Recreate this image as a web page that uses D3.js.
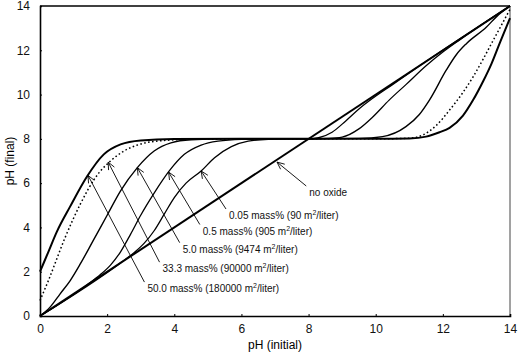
<!DOCTYPE html>
<html><head><meta charset="utf-8">
<script src="https://cdn.jsdelivr.net/npm/d3@7/dist/d3.min.js"></script>
<style>
html,body{margin:0;padding:0;background:#fff;}
svg{display:block;font-family:"Liberation Sans",Arial,sans-serif;}
</style></head>
<body><svg id="c" width="519" height="356"></svg>
<script>
// ---- data (pH initial, pH final) ----
const xTicks = [0, 2, 4, 6, 8, 10, 12, 14];
const yTicks = [0, 2, 4, 6, 8, 10, 12, 14];
const xLabel = "pH (initial)";
const yLabel = "pH (final)";

const noOxide = [[0,0],[14,14]];
const mass50 = [[0,2.0],[0.25,2.9],[0.5,3.8],[0.9,4.95],[1.4,6.3],[1.9,7.3],[2.4,7.75],[3,7.93],[4,7.99],[6,8],[8,8],[10,8],[11,8.02],[11.5,8.1],[11.9,8.3],[12.2,8.5],[12.6,9.05],[12.9,9.75],[13.2,10.6],[13.45,11.4],[13.7,12.35],[14,13.45]];
const mass33 = [[0,0.7],[0.25,1.6],[0.75,3.55],[1.2,5.05],[1.65,6.25],[2.1,7.0],[2.5,7.45],[2.9,7.72],[3.5,7.9],[4.5,7.98],[6,8],[8,8],[10,8],[11,8.03],[11.4,8.17],[11.8,8.6],[12.2,9.3],[12.6,10.1],[12.9,10.8],[13.2,11.6],[13.5,12.45],[13.75,13.15],[14,13.85]];
const mass5 = [[0,0],[0.3,0.4],[0.6,1.0],[0.9,1.6],[1.2,2.35],[1.6,3.45],[2.0,4.55],[2.4,5.65],[2.9,6.7],[3.4,7.45],[3.9,7.82],[4.5,7.96],[5.5,8.0],[8,8],[9.5,8.02],[10.2,8.1],[10.9,8.55],[11.3,9.1],[11.6,9.75],[12.1,11.1],[12.4,11.8],[12.7,12.3],[13.3,13.05],[13.6,13.52],[14,14]];
const mass05 = [[0,0],[1.4,1.4],[1.8,1.87],[2.1,2.3],[2.4,2.9],[2.7,3.7],[3.0,4.55],[3.4,5.55],[3.85,6.55],[4.3,7.3],[4.8,7.72],[5.3,7.9],[6,7.98],[7,8],[8,8],[8.6,8.02],[9.0,8.08],[9.5,8.45],[9.92,9.0],[10.4,9.75],[10.9,10.45],[11.5,11.3],[12,11.92],[12.5,12.47],[14,14]];
const mass005 = [[0,0],[2.4,2.4],[2.8,2.86],[3.1,3.28],[3.4,3.85],[3.7,4.6],[4.0,5.35],[4.35,6.0],[4.8,6.55],[5.2,7.15],[5.7,7.65],[6.2,7.9],[6.8,7.98],[7.5,8],[8.04,8.0],[8.3,8.05],[8.7,8.3],[9.1,8.8],[9.5,9.35],[9.9,9.82],[10.5,10.45],[11,10.98],[14,14]];

// annotation: label text, arrow tip (pHi,pHf), label anchor (pHi,pHf)
const annLabels = ["no oxide","0.05 mass% (90 m","0.5 mass% (905 m","5.0 mass% (9474 m","33.3 mass% (90000 m","50.0 mass% (180000 m"];
const annTips   = [[7.06,6.95],[4.8,6.55],[3.83,6.5],[2.9,6.7],[2.03,6.95],[1.43,6.35]];
const annAnchor = [[8.02,5.42],[5.63,4.38],[4.85,3.68],[4.25,2.86],[3.65,1.98],[3.2,1.08]];

// ---- drawing ----
const svg = d3.select("#c");
const x = d3.scaleLinear().domain([0,14]).range([40,510]);
const y = d3.scaleLinear().domain([0,14]).range([316,6]);

const line = d3.line().x(d=>x(d[0])).y(d=>y(d[1])).curve(d3.curveMonotoneX);
const lineStraight = d3.line().x(d=>x(d[0])).y(d=>y(d[1]));

// frame
svg.append("line").attr("x1",x(0)).attr("x2",x(14)).attr("y1",y(14)).attr("y2",y(14)).attr("stroke","#000").attr("stroke-width",1.4);
svg.append("line").attr("x1",x(14)).attr("x2",x(14)).attr("y1",y(14)).attr("y2",y(0)).attr("stroke","#444").attr("stroke-width",1);

// axes
const gx = svg.append("g").attr("transform",`translate(0,${y(0)})`)
  .call(d3.axisBottom(x).tickValues(xTicks).tickSize(-2).tickPadding(8).tickFormat(d3.format("d")));
const gy = svg.append("g").attr("transform",`translate(${x(0)},0)`)
  .call(d3.axisLeft(y).tickValues(yTicks).tickSize(-2).tickPadding(10).tickFormat(d3.format("d")));
[gx,gy].forEach(g=>{
  g.select(".domain").attr("stroke","#000").attr("stroke-width",1.6);
  g.selectAll(".tick line").attr("stroke","#000");
  g.selectAll(".tick text").attr("font-size",12).attr("fill","#111").attr("font-family","Liberation Sans, Arial, sans-serif");
});

svg.append("text").attr("x",(x(0)+x(14))/2).attr("y",349).attr("text-anchor","middle")
  .attr("font-size",12).text(xLabel);
svg.append("text").attr("transform",`translate(14,${(y(0)+y(14))/2}) rotate(-90)`).attr("text-anchor","middle")
  .attr("font-size",12).text(yLabel);

// curves
svg.append("path").attr("d",lineStraight(noOxide)).attr("fill","none").attr("stroke","#000").attr("stroke-width",2);
const curves = [
  {d:mass005,w:1.3,dash:null},
  {d:mass05,w:1.3,dash:null},
  {d:mass5,w:1.4,dash:null},
  {d:mass33,w:1.5,dash:"1.6,2.4"},
  {d:mass50,w:2,dash:null}
];
curves.forEach(c=>{
  svg.append("path").attr("d",line(c.d)).attr("fill","none").attr("stroke","#000")
    .attr("stroke-width",c.w).attr("stroke-dasharray",c.dash);
});

// annotations
annLabels.forEach((t,i)=>{
  const tx = x(annTips[i][0]), ty = y(annTips[i][1]);
  const ax = x(annAnchor[i][0]), ay = y(annAnchor[i][1]);
  const sx = ax - 3, sy = ay - 10;
  svg.append("line").attr("x1",sx).attr("y1",sy).attr("x2",tx).attr("y2",ty)
    .attr("stroke","#000").attr("stroke-width",0.9);
  const ang = Math.atan2(sy-ty, sx-tx);
  const L = 8, spread = 0.42;
  [ang-spread, ang+spread].forEach(a=>{
    svg.append("line").attr("x1",tx).attr("y1",ty)
      .attr("x2",tx+L*Math.cos(a)).attr("y2",ty+L*Math.sin(a))
      .attr("stroke","#000").attr("stroke-width",0.9);
  });
  const txt = svg.append("text").attr("x",ax).attr("y",ay).attr("font-size",10).attr("fill","#111");
  txt.append("tspan").text(t);
  if (i>0){
    txt.append("tspan").attr("font-size",7).attr("dy",-4).text("2");
    txt.append("tspan").attr("dy",4).text("/liter)");
  }
});
</script></body></html>
